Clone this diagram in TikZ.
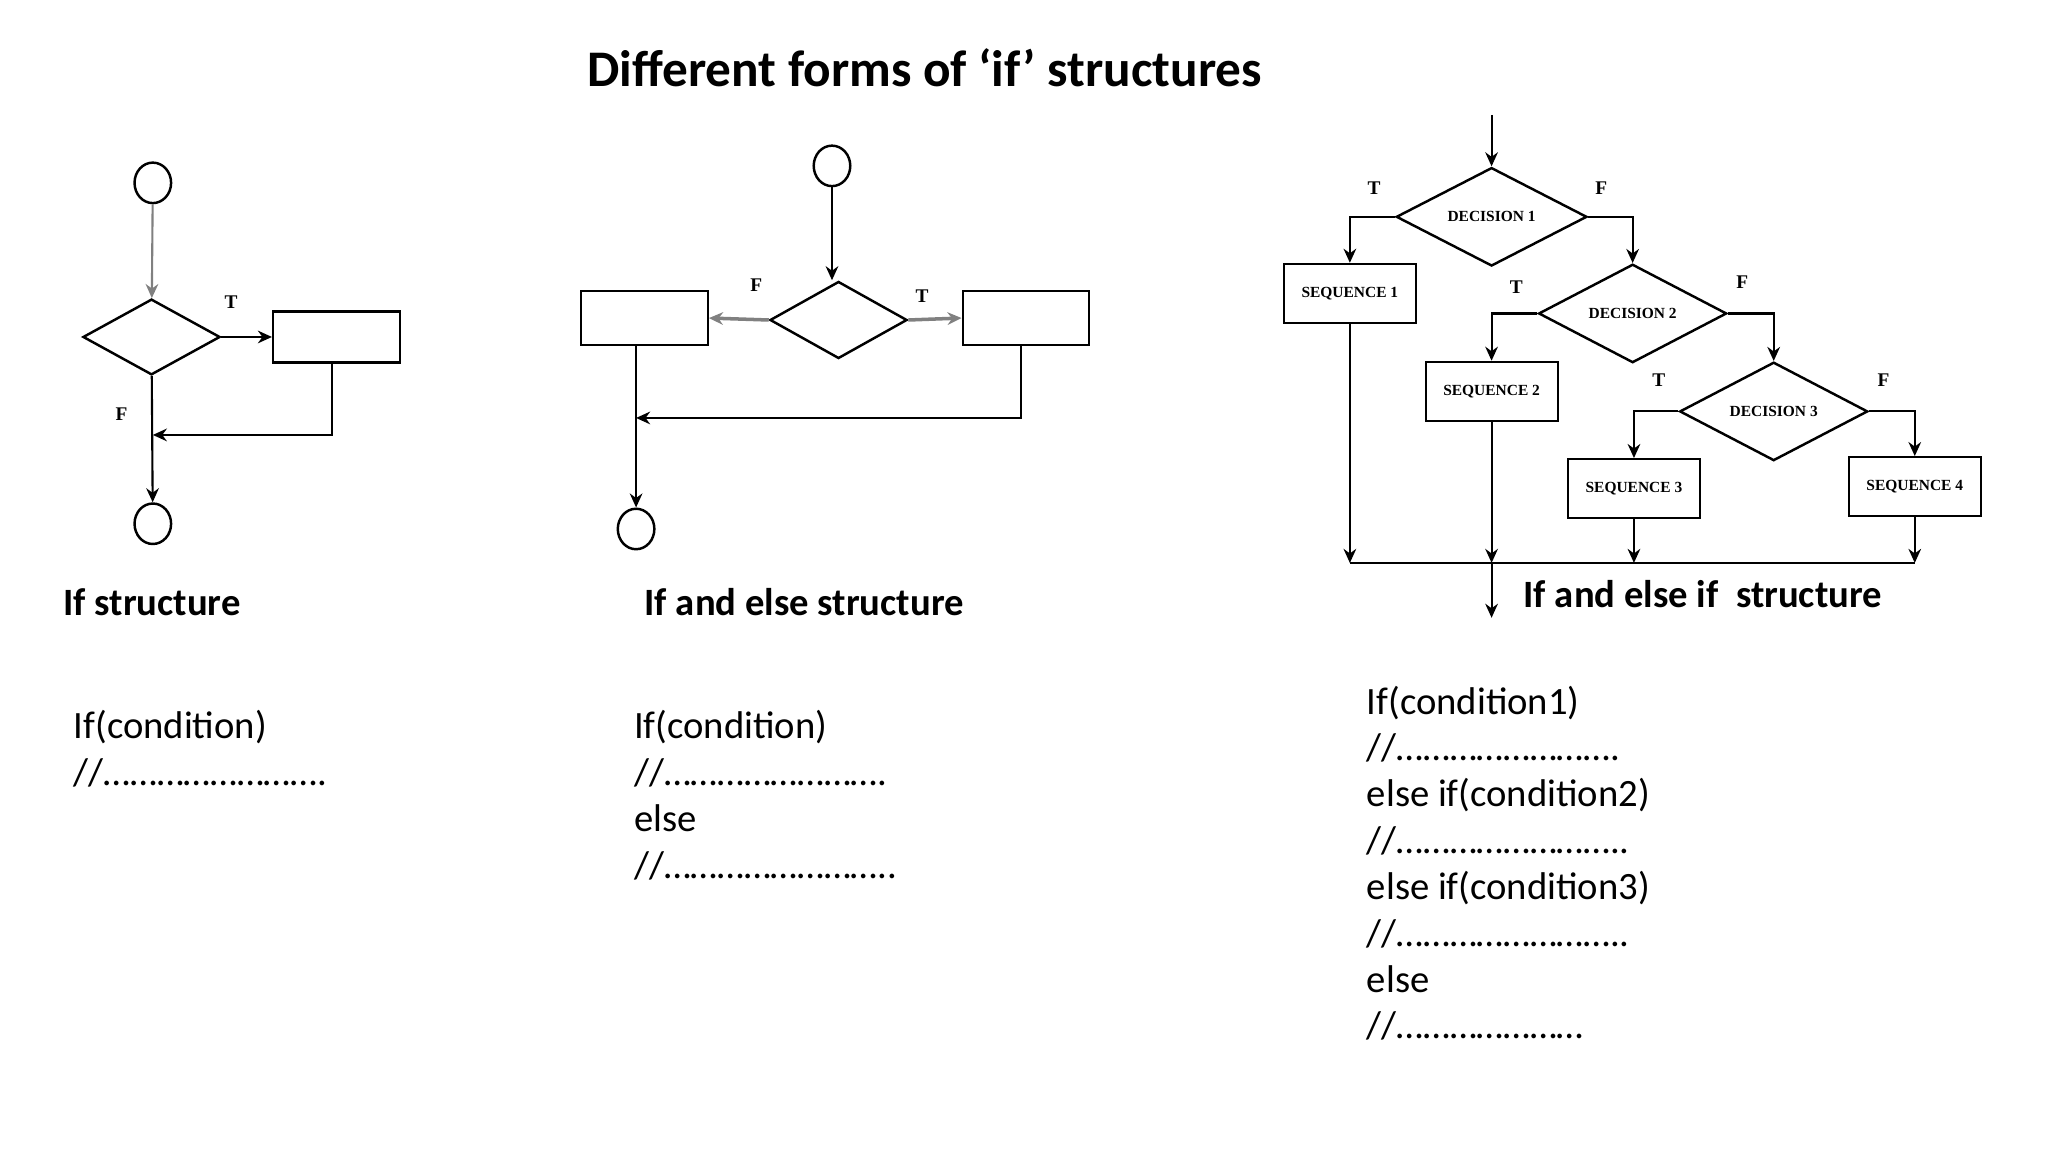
\documentclass[tikz,border=0pt]{standalone}
\usepackage{fontspec}
\setmainfont{Carlito}
\newfontfamily\seriffont{Liberation Serif}
\usetikzlibrary{shapes.geometric, arrows.meta}
\newcommand\pxu{0.0130612cm}
\newcommand\seqfont{\seriffont\bfseries\fontsize{4.4}{5}\selectfont}

\begin{document}
\begin{tikzpicture}[x=\pxu, y=-\pxu,
	flow/.style={line width=0.6pt},
	arw/.style={flow, -{Stealth[length=4pt, width=3.6pt]}},
	term/.style={draw, ellipse, line width=0.7pt, minimum width=28*\pxu, minimum height=31*\pxu, inner sep=0},
	dec/.style={draw, diamond, line width=0.7pt, inner sep=0},
	blk/.style={draw, rectangle, line width=0.6pt, inner sep=0},
	seqbox/.style={blk, minimum width=101*\pxu, minimum height=45*\pxu, font=\seqfont},
	tf/.style={font=\seriffont\bfseries\fontsize{5.5}{6}\selectfont, inner sep=0},
	sub/.style={anchor=west, inner sep=0, font=\bfseries\fontsize{11}{13}\selectfont},
	code/.style={anchor=north west, inner sep=0, align=left, font=\fontsize{11}{13.2}\selectfont}]

% page frame
	\useasboundingbox (0,0) rectangle (1568,882);

% title
	\node[font=\bfseries\fontsize{14.6}{17}\selectfont] (title) at (708,52) {Different forms of ‘if’ structures};

% if structure
	\node[term] (a0) at (117,140) {};
	\node[dec, minimum width=105*\pxu, minimum height=58*\pxu] (ad) at (116,258) {};
	\node[blk, minimum width=97*\pxu, minimum height=39*\pxu] (ab) at (257.5,258) {};
	\node[term] (a1) at (117,401) {};
	\coordinate (aj) at (117,333);

	\draw[arw, gray] (a0) -- (ad);
	\draw[arw] (ad) -- (ab);
	\draw[arw] (ad) -- (a1);
	\draw[arw] ([xshift=-3.5*\pxu]ab.south) |- (aj);

	\node[tf] (at) at (177,231) {T};
	\node[tf] (af) at (93,317) {F};

% if and else structure
	\node[term] (b0) at (637,127) {};
	\node[dec, minimum width=105*\pxu, minimum height=59*\pxu] (bd) at (642,245) {};
	\node[blk, minimum width=97*\pxu, minimum height=41*\pxu] (bl) at (493.5,243.5) {};
	\node[blk, minimum width=97*\pxu, minimum height=41*\pxu] (br) at (785.5,243.5) {};
	\node[term] (b1) at (487,405) {};
	\coordinate (bj) at (487,320);

	\draw[arw] (b0) -- (b0 |- bd.north);
	\draw[arw, gray, line width=1pt] (bd.west) -- (bl.east);
	\draw[arw, gray, line width=1pt] (bd.east) -- (br.west);
	\draw[arw] (bl.south -| b1) -- (b1);
	\draw[arw] ([xshift=-3.5*\pxu]br.south) |- (bj);

	\node[tf] (bf) at (579,218) {F};
	\node[tf] (bt) at (706,227) {T};

% if and else if structure
	\coordinate (cs) at (1142,88);
	\node[dec, minimum width=146*\pxu, minimum height=72*\pxu, font=\seqfont] (d1) at (1142,166) {DECISION 1};
	\node[dec, minimum width=144*\pxu, minimum height=71*\pxu, font=\seqfont] (d2) at (1250,240) {DECISION 2};
	\node[dec, minimum width=144*\pxu, minimum height=72*\pxu, font=\seqfont] (d3) at (1358,315) {DECISION 3};
	\node[seqbox] (s1) at (1033.5,224.5) {SEQUENCE 1};
	\node[seqbox] (s2) at (1142,299.5) {SEQUENCE 2};
	\node[seqbox] (s3) at (1251,374) {SEQUENCE 3};
	\node[seqbox] (s4) at (1466,372.5) {SEQUENCE 4};
	\coordinate (m1) at (1033.5,431);
	\coordinate (m2) at (1142,431);
	\coordinate (m3) at (1251,431);
	\coordinate (m4) at (1466,431);
	\coordinate (ce) at (1142,473);

	\draw[arw] (cs) -- (d1);
	\draw[arw] (d1.west) -| (s1.north);
	\draw[arw] (d1.east) -| (d2.north);
	\draw[arw] (d2.west) -| (s2.north);
	\draw[arw] (d2.east) -| (d3.north);
	\draw[arw] (d3.west) -| (s3.north);
	\draw[arw] (d3.east) -| (s4.north);
	\foreach \s/\m in {s1/m1, s2/m2, s3/m3, s4/m4}
		\draw[arw] (\s.south) -- (\m);
	\draw[flow] (m1) -- (m4);
	\draw[arw] (m2) -- (ce);

	\node[tf] (ct1) at (1052,144) {T};
	\node[tf] (cf1) at (1226,144) {F};
	\node[tf] (ct2) at (1161,220) {T};
	\node[tf] (cf2) at (1334,216) {F};
	\node[tf] (ct3) at (1270,291) {T};
	\node[tf] (cf3) at (1442,291) {F};

% captions
	\node[sub] (ia) at (48,461) {If structure};
	\node[sub] (ib) at (493,461) {If and else structure};
	\node[sub] (ic) at (1166,455) {If and else if\ \ structure};

% code lines
	\node[code] (ka) at (56,543.5) {If(condition)\\//…………………….};
	\node[code] (kb) at (485,543.5) {If(condition)\\//…………………….\\else\\//……………………..};
	\node[code] (kc) at (1046,524.5) {If(condition1)\\//…………………….\\else if(condition2)\\//……………………..\\else if(condition3)\\//……………………..\\else\\//…………………};

\end{tikzpicture}
\end{document}
